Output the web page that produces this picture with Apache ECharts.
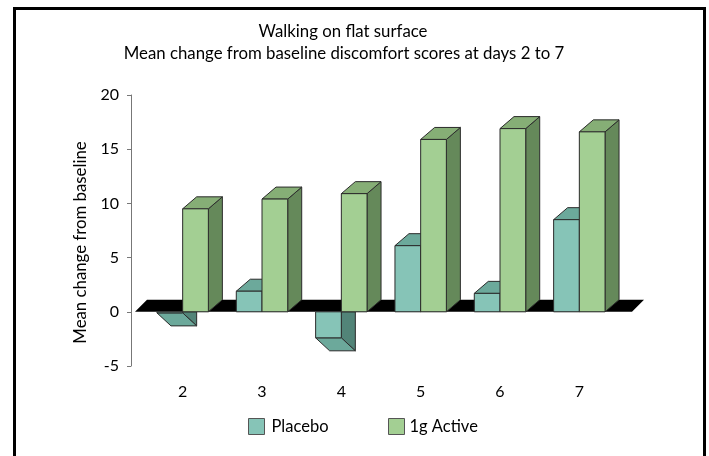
<!DOCTYPE html>
<html>
<head>
<meta charset="utf-8">
<script src="https://cdn.jsdelivr.net/npm/echarts@6/dist/echarts.min.js"></script>
<style>
  html, body { margin: 0; padding: 0; background: #fff; }
  #chart { width: 709px; height: 456px; }
</style>
</head>
<body>
<div id="chart"></div>
<script>
// Mean change from baseline discomfort scores, by study day
const days = ['2', '3', '4', '5', '6', '7'];
const placebo = [-0.1, 1.9, -2.4, 6.1, 1.7, 8.5];
const active = [9.5, 10.4, 10.9, 15.9, 16.9, 16.6];
const yMin = -5, yMax = 20, yStep = 5;

const FONT = 'Lato';
const TXT = '#000';
const DX = 14;      // depth offset of the 3D bars
const DY = 12;
const DY_NEG = 13;

const placeboColors = { front: '#86c4b7', top: '#6ca99b', side: '#528478' };
const activeColors = { front: '#a3cf93', top: '#86ae76', side: '#65895a' };

const edge = { stroke: '#2b2b2b', lineWidth: 1, lineJoin: 'round' };

// Draws one box per category; leftOfCenter puts the box left of the category centre
function boxRenderer(colors, leftOfCenter) {
  return function (params, api) {
    const idx = api.value(0);
    const v = api.value(1);
    const band = api.size([1, 0])[0];
    const w = band * 0.324;
    const base = api.coord([idx, 0]);
    const y0 = base[1];
    const yv = api.coord([idx, v])[1];
    const x0 = leftOfCenter ? base[0] - w : base[0];
    const x1 = x0 + w;
    const children = [];
    if (v >= 0) {
      children.push({ type: 'polygon',
        shape: { points: [[x1, y0], [x1, yv], [x1 + DX, yv - DY], [x1 + DX, y0 - DY]] },
        style: Object.assign({ fill: colors.side }, edge) });
      children.push({ type: 'polygon',
        shape: { points: [[x0, yv], [x1, yv], [x1 + DX, yv - DY], [x0 + DX, yv - DY]] },
        style: Object.assign({ fill: colors.top }, edge) });
      children.push({ type: 'rect',
        shape: { x: x0, y: yv, width: w, height: y0 - yv },
        style: Object.assign({ fill: colors.front }, edge) });
    } else {
      children.push({ type: 'polygon',
        shape: { points: [[x1, y0], [x1 + DX, y0], [x1 + DX, yv + DY_NEG], [x1, yv]] },
        style: Object.assign({ fill: colors.side }, edge) });
      children.push({ type: 'polygon',
        shape: { points: [[x0, yv], [x1, yv], [x1 + DX, yv + DY_NEG], [x0 + DX, yv + DY_NEG]] },
        style: Object.assign({ fill: colors.top }, edge) });
      children.push({ type: 'rect',
        shape: { x: x0, y: y0, width: w, height: yv - y0 },
        style: Object.assign({ fill: colors.front }, edge) });
    }
    return { type: 'group', children: children };
  };
}

// Black floor plane at the zero line
function floorRenderer(params, api) {
  const cs = params.coordSys;
  const y0 = api.coord([0, 0])[1];
  const l = cs.x - 8;
  const r = cs.x + cs.width + 13;
  return {
    type: 'polygon',
    shape: { points: [[l, y0], [r, y0], [r + 12, y0 - 12], [l + 12, y0 - 12]] },
    style: { fill: '#000' }
  };
}

const chart = echarts.init(document.getElementById('chart'), null, { renderer: 'canvas' });

const legendBase = {
  top: 418, itemWidth: 16, itemHeight: 16, icon: 'rect', padding: 0,
  selectedMode: false,
  itemStyle: { borderColor: '#555', borderWidth: 1 },
  textStyle: { fontFamily: FONT, fontSize: 16.5, color: TXT }
};

chart.setOption({
  animation: false,
  textStyle: { fontFamily: FONT },
  graphic: [
    { type: 'rect', silent: true,
      shape: { x: 14.5, y: 8.5, width: 690, height: 470 },
      style: { fill: 'none', stroke: '#000', lineWidth: 3 } },
    { type: 'text', x: 343, y: 32,
      style: { text: 'Walking on flat surface', font: '16.8px ' + FONT, fill: TXT,
               align: 'center', verticalAlign: 'middle', textAlign: 'center', textVerticalAlign: 'middle' } },
    { type: 'text', x: 344, y: 54,
      style: { text: 'Mean change from baseline discomfort scores at days 2 to 7', font: '16.8px ' + FONT, fill: TXT,
               align: 'center', verticalAlign: 'middle', textAlign: 'center', textVerticalAlign: 'middle' } }
  ],
  legend: [
    Object.assign({}, legendBase, { left: 248, data: ['Placebo'],
      textStyle: Object.assign({}, legendBase.textStyle, { padding: [0, 0, 0, 2] }) }),
    Object.assign({}, legendBase, { left: 388, data: ['1g Active'] })
  ],
  grid: { left: 143, right: 90, top: 95, bottom: 90, containLabel: false },
  xAxis: {
    type: 'category',
    data: days,
    axisLine: { show: false, onZero: false },
    axisTick: { show: false },
    splitLine: { show: false },
    axisLabel: { margin: 18, fontSize: 16, color: TXT, fontFamily: FONT }
  },
  yAxis: {
    type: 'value',
    min: yMin, max: yMax, interval: yStep,
    offset: 12,
    axisLine: { show: true, lineStyle: { color: '#777', width: 1 } },
    axisTick: { show: true, length: 4, lineStyle: { color: '#777' } },
    splitLine: { show: false },
    axisLabel: { margin: 12, fontSize: 16, color: TXT, fontFamily: FONT },
    name: 'Mean change from baseline',
    nameLocation: 'middle',
    nameGap: 38,
    nameTextStyle: { fontSize: 16.8, color: TXT, fontFamily: FONT, padding: [0, 24, 0, 0] }
  },
  series: [
    { type: 'custom', name: 'floor', z: 1, silent: true,
      data: [[0, 0]], encode: { x: 0, y: 1 }, renderItem: floorRenderer },
    { type: 'custom', name: 'Placebo', z: 2,
      itemStyle: { color: placeboColors.front },
      data: days.map((d, i) => [i, placebo[i]]), encode: { x: 0, y: 1 },
      renderItem: boxRenderer(placeboColors, true) },
    { type: 'custom', name: '1g Active', z: 3,
      itemStyle: { color: activeColors.front },
      data: days.map((d, i) => [i, active[i]]), encode: { x: 0, y: 1 },
      renderItem: boxRenderer(activeColors, false) }
  ]
});
</script>
</body>
</html>
